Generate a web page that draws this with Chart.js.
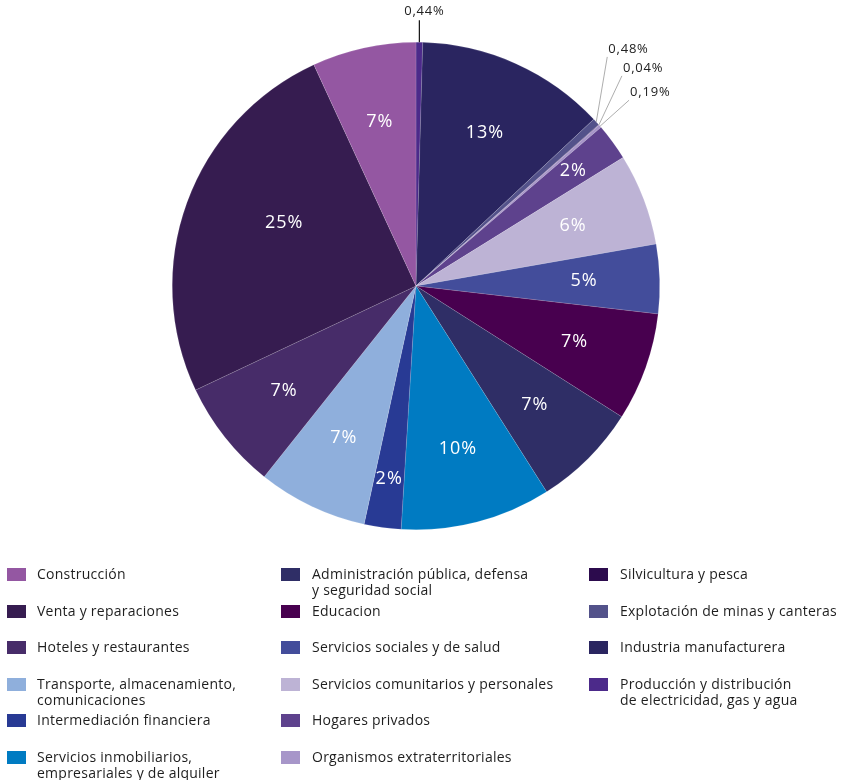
<!DOCTYPE html>
<html>
<head>
<meta charset="utf-8">
<script src="https://cdn.jsdelivr.net/npm/chart.js@4"></script>
<style>
  html, body { margin: 0; padding: 0; background: #fff; }
  body { width: 844px; height: 780px; position: relative; overflow: hidden; font-family: "Open Sans", "Noto Sans", sans-serif; }
  #wrap { position: absolute; left: 0; top: 0; width: 844px; height: 560px; }
  #leyenda { position: absolute; left: 0; top: 0; width: 844px; height: 780px; pointer-events: none; }
  .item { position: absolute; font-size: 14px; letter-spacing: 0.25px; line-height: 16px; color: #1e1e1e; }
  .item .cuadro { position: absolute; left: 0; top: 0; width: 19px; height: 13px; }
  .item .texto { position: absolute; top: -2px; white-space: nowrap; }
</style>
</head>
<body>
<div id="wrap"><canvas id="graficoSectores"></canvas></div>
<div id="leyenda"></div>
<script>
// categorias en el orden de la leyenda (columna por columna)
const sectores = [
  'Construcción',
  'Venta y reparaciones',
  'Hoteles y restaurantes',
  'Transporte, almacenamiento,\ncomunicaciones',
  'Intermediación financiera',
  'Servicios inmobiliarios,\nempresariales y de alquiler',
  'Administración pública, defensa\ny seguridad social',
  'Educacion',
  'Servicios sociales y de salud',
  'Servicios comunitarios y personales',
  'Hogares privados',
  'Organismos extraterritoriales',
  'Silvicultura y pesca',
  'Explotación de minas y canteras',
  'Industria manufacturera',
  'Producción y distribución\nde electricidad, gas y agua'
];

// porcentajes
const porcentajes = [6.9, 25.2, 7.3, 7.3, 2.45, 10.0, 7.0, 7.2, 4.6, 6.1, 2.45, 0.19, 0.04, 0.48, 12.6, 0.44];

const colores = [
  '#9457a2', '#361c50', '#472c69', '#8fafdc', '#283a94', '#007bc2',
  '#2f2e66', '#48004f', '#434d9b', '#bdb3d5', '#5e428d', '#a796c9',
  '#2c0b4d', '#53528a', '#2a2560', '#4c2a8a'
];

// desplazamiento de las etiquetas externas (sectores menores a 1%)
const etiquetasExternas = {
  'Producción y distribución\nde electricidad, gas y agua': { dx: 0, dy: -22, linea: '#111' },
  'Explotación de minas y canteras': { dx: 11, dy: -65, linea: '#8a8a8a' },
  'Silvicultura y pesca': { dx: 23, dy: -49, linea: '#8a8a8a' },
  'Organismos extraterritoriales': { dx: 29, dy: -26, linea: '#8a8a8a' }
};

const fuente = '"Open Sans", "Noto Sans", sans-serif';

// el pastel se dibuja en sentido horario empezando por el ultimo sector de la leyenda
const etiquetasPastel = sectores.slice().reverse();
const valoresPastel = porcentajes.slice().reverse();
const coloresPastel = colores.slice().reverse();

const pluginEtiquetas = {
    id: 'etiquetasSectores',
    afterDatasetsDraw(chart) {
        const ctx = chart.ctx;
        const meta = chart.getDatasetMeta(0);
        const datos = chart.data.datasets[0].data;
        ctx.save();
        meta.data.forEach((arco, i) => {
            const p = arco.getProps(['x', 'y', 'startAngle', 'endAngle', 'outerRadius'], true);
            let medio = (p.startAngle + p.endAngle) / 2;
            const valor = datos[i];
            const nombre = chart.data.labels[i];
            if (valor >= 1) {
                let f = 0.69;
                if (valor < 3) f = 0.8;
                if (valor > 20) { f = 0.6; medio += 0.1; }
                const x = p.x + Math.cos(medio) * p.outerRadius * f;
                const y = p.y + Math.sin(medio) * p.outerRadius * f;
                ctx.fillStyle = '#ffffff';
                ctx.font = '18px ' + fuente;
                ctx.letterSpacing = '1px';
                ctx.textAlign = 'center';
                ctx.textBaseline = 'middle';
                ctx.fillText(Math.round(valor) + '%', x, y);
            } else {
                const ext = etiquetasExternas[nombre];
                if (!ext) return;
                const ax = p.x + Math.cos(medio) * p.outerRadius;
                const ay = p.y + Math.sin(medio) * p.outerRadius;
                const bx = ax + ext.dx;
                const by = ay + ext.dy;
                ctx.strokeStyle = ext.linea;
                ctx.lineWidth = ext.linea === '#111' ? 1.2 : 0.7;
                ctx.beginPath();
                ctx.moveTo(ax, ay);
                ctx.lineTo(bx, by);
                ctx.stroke();
                ctx.fillStyle = '#222';
                ctx.font = '13px ' + fuente;
                ctx.letterSpacing = '0.8px';
                ctx.textBaseline = 'middle';
                const texto = valor.toFixed(2).replace('.', ',') + '%';
                if (ext.dx === 0) {
                    ctx.textAlign = 'center';
                    ctx.fillText(texto, bx + 5, by - 9);
                } else {
                    ctx.textAlign = 'left';
                    ctx.fillText(texto, bx + 1, by - 8);
                }
            }
        });
        ctx.restore();
    }
};

function dibujarLeyenda(chart) {
    const cont = document.getElementById('leyenda');
    const columnas = [
        { cuadro: 7, texto: 30, filas: [0, 1, 2, 3, 4, 5] },
        { cuadro: 281, texto: 31, filas: [6, 7, 8, 9, 10, 11] },
        { cuadro: 589, texto: 31, filas: [12, 13, 14, 15] }
    ];
    const arriba = 568;
    const paso = 36.6;
    columnas.forEach(col => {
        col.filas.forEach((idx, fila) => {
            const item = document.createElement('div');
            item.className = 'item';
            item.style.left = col.cuadro + 'px';
            item.style.top = (arriba + fila * paso) + 'px';
            const cuadro = document.createElement('div');
            cuadro.className = 'cuadro';
            cuadro.style.background = colores[idx];
            const texto = document.createElement('div');
            texto.className = 'texto';
            texto.style.left = col.texto + 'px';
            texto.innerHTML = sectores[idx].split('\n').join('<br>');
            item.appendChild(cuadro);
            item.appendChild(texto);
            cont.appendChild(item);
        });
    });
}

document.addEventListener('DOMContentLoaded', function() {
    const canvas = document.getElementById('graficoSectores');
    const grafico = new Chart(canvas.getContext('2d'), {
        type: 'pie',
        data: {
            labels: etiquetasPastel,
            datasets: [{
                data: valoresPastel,
                backgroundColor: coloresPastel,
                borderColor: 'rgba(255,255,255,0.25)',
                borderWidth: 0.5
            }]
        },
        options: {
            responsive: true,
            maintainAspectRatio: false,
            animation: false,
            layout: { padding: { top: 42, bottom: 30, left: 0, right: 12 } },
            plugins: {
                legend: { display: false },
                tooltip: { enabled: false }
            }
        },
        plugins: [pluginEtiquetas]
    });
    dibujarLeyenda(grafico);
});
</script>
</body>
</html>
